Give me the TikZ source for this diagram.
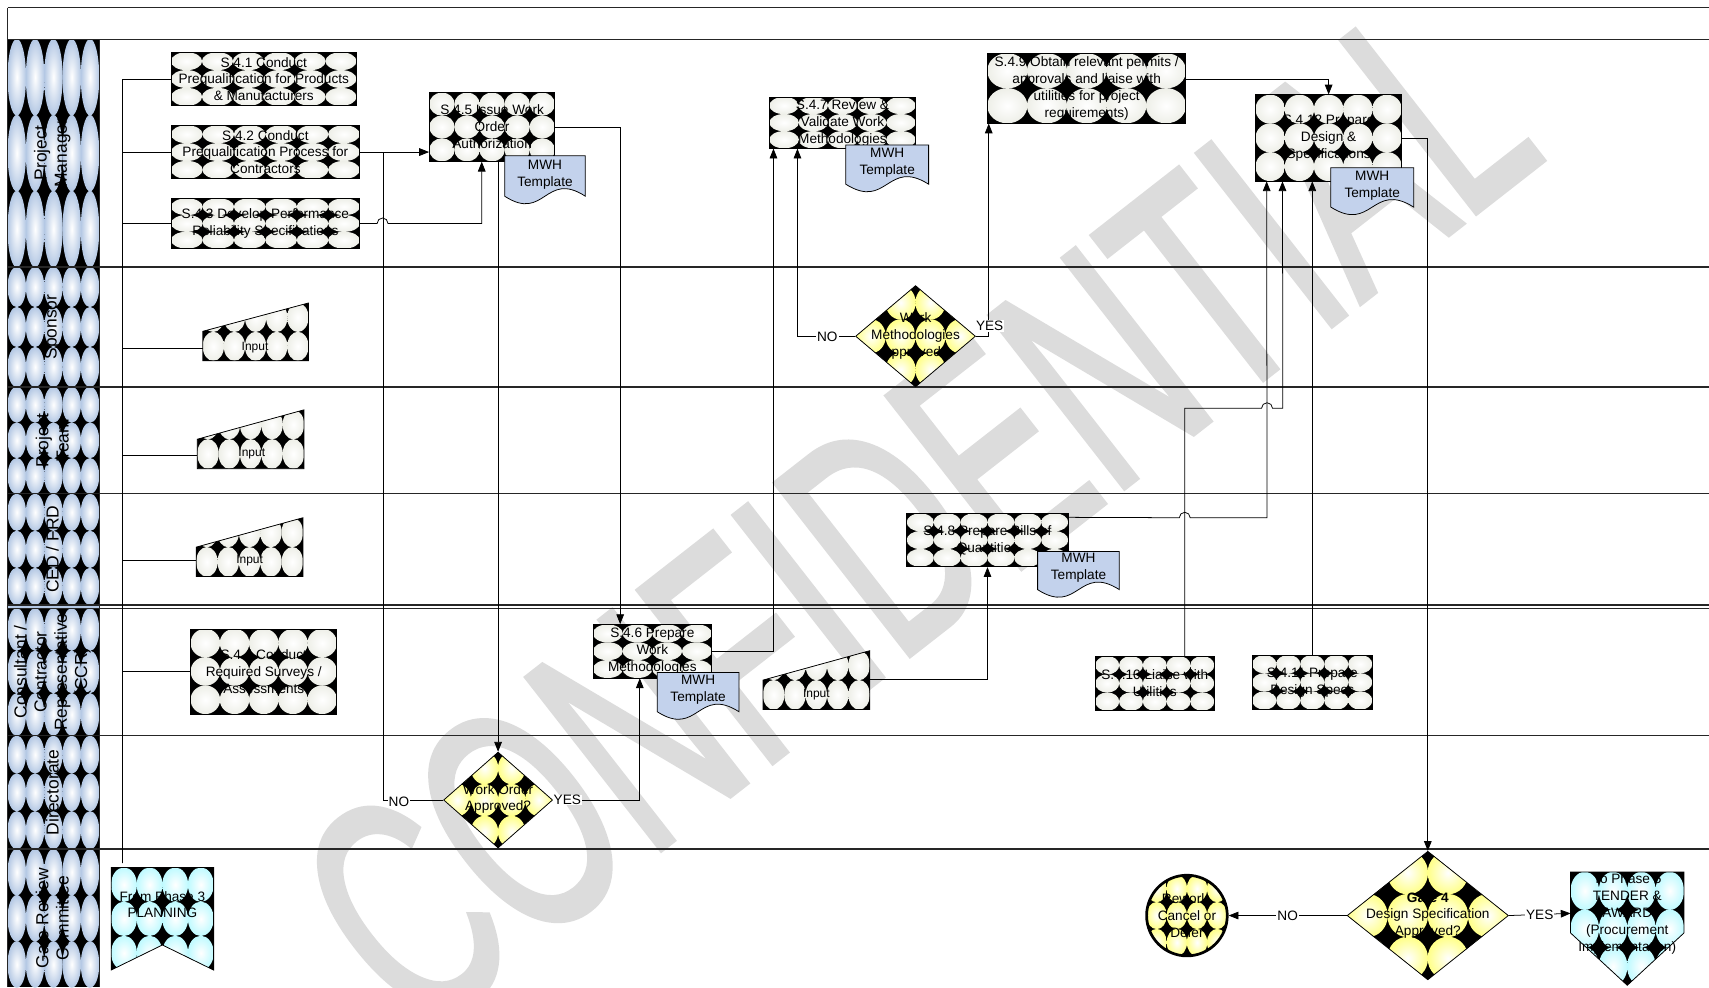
\documentclass[tikz,border=0pt]{standalone}
\usepackage{fontspec}
\setmainfont{Liberation Sans}
\newfontface\wmface[FakeBold=2]{Liberation Sans}
\usepackage{graphicx}
\usetikzlibrary{calc,arrows.meta,shapes.geometric}
\definecolor{hdrc}{HTML}{B4C8E4}
\definecolor{boxc}{HTML}{EEEFE8}
\definecolor{yelc}{HTML}{FFFF88}
\definecolor{cync}{HTML}{BFFAFF}
\definecolor{docc}{HTML}{C3D2EC}
\definecolor{wmc}{HTML}{DCDCDC}
\newcommand\boxfont{\fontsize{12.5}{15.5}\selectfont}
\newcommand\hdrfont{\fontsize{16}{18.5}\selectfont}
\newcommand\infont{\fontsize{11}{13}\selectfont}
\newdimen\ssx \newdimen\ssy \newdimen\eex \newdimen\eey
\newcommand\dostars[3]{%
  \pgfextractx{\ssx}{\pgfpointanchor{path picture bounding box}{south west}}%
  \pgfextracty{\ssy}{\pgfpointanchor{path picture bounding box}{south west}}%
  \pgfextractx{\eex}{\pgfpointanchor{path picture bounding box}{north east}}%
  \pgfextracty{\eey}{\pgfpointanchor{path picture bounding box}{north east}}%
  \fill[black] (\the\ssx,\the\ssy) rectangle (\the\eex,\the\eey);
  \pgfmathsetmacro\sox{\ssx}\pgfmathsetmacro\soy{\ssy}%
  \pgfmathsetmacro\scw{(\eex-\ssx)/#2}\pgfmathsetmacro\sch{(\eey-\ssy)/#3}%
  \foreach \si in {1,...,#2}{\foreach \sj in {1,...,#3}{%
    \pgfmathsetmacro\scx{\sox+(\si-0.5)*\scw}%
    \pgfmathsetmacro\scy{\soy+(\sj-0.5)*\sch}%
    \shade[inner color=white, outer color=#1] (\scx pt,\scy pt) ellipse[x radius=0.505*\scw pt, y radius=0.505*\sch pt];
  }}%
}
\newcommand\docpath[4]{%
  \path[docsh] (#1,#2) -- (#3,#2) -- (#3,#4) .. controls ({0.5*(#1+#3)},{#4-24}) and ({0.5*(#1+#3)},{#4+24}) .. (#1,#4) -- cycle;}
\tikzset{
  lane/.style={line width=1.1pt, draw=black!85},
  proc/.style={draw=black, line width=0.7pt, inner sep=0pt, align=center, font=\boxfont},
  dec/.style={draw=black, line width=0.7pt, diamond, inner sep=0pt},
  txt/.style={inner sep=0pt, align=center, font=\boxfont},
  intxt/.style={inner sep=0pt, align=center, font=\infont},
  conn/.style={draw=black, line width=0.7pt},
  arr/.style={conn, -{Triangle[length=9pt,width=7pt]}},
  lbl/.style={fill=white, inner sep=1pt, font=\boxfont},
  hdrtxt/.style={rotate=90, align=center, font=\hdrfont, inner sep=0pt},
  docsh/.style={draw=black, line width=0.7pt, fill=docc},
  shp/.style={draw=black, line width=0.7pt},
  wmark/.style={rotate=38, text=wmc, inner sep=0pt},
  starry/.style n args={3}{path picture={\dostars{#1}{#2}{#3}}},
}
\begin{document}
\begin{tikzpicture}[x=1pt,y=-1pt]
\useasboundingbox (0,0) rectangle (1568,906);
\fill[white] (0,0) rectangle (1568,906);
% watermark
\node[wmark] (wm) at (840,470) {\scalebox{0.62}[1]{\fontsize{290}{290}\wmface CONFIDENTIAL}};
% lane headers
\path[starry={hdrc}{5}{3}] (7,36) rectangle (91,245);
\path[starry={hdrc}{5}{3}] (7,245) rectangle (91,355);
\path[starry={hdrc}{5}{3}] (7,355) rectangle (91,453);
\path[starry={hdrc}{5}{3}] (7,453) rectangle (91,555);
\fill[hdrc] (7,555) rectangle (91,558);
\path[starry={hdrc}{5}{3}] (7,558) rectangle (91,675);
\path[starry={hdrc}{5}{3}] (7,675) rectangle (91,779);
\path[starry={hdrc}{5}{3}] (7,779) rectangle (91,906);
\draw[lane] (7,7) -- (1568,7);
\draw[lane] (7,36) -- (1568,36);
\draw[lane] (7,7) -- (7,906);
\draw[lane] (91,36) -- (91,906);
\foreach \ly in {245,355,453,555,558,675,779}{\draw[lane] (7,\ly) -- (1568,\ly);}
\node[hdrtxt] (hpm) at (48,140.5) {Project\\Manager};
\node[hdrtxt] (hsp) at (48,300) {Sponsor};
\node[hdrtxt] (hpt) at (48,404) {Project\\Team};
\node[hdrtxt] (hced) at (48,504) {CED / FRD};
\node[hdrtxt] (hccr) at (48,616.5) {Consultant /\\Contractor\\Representative\\(CCR)};
\node[hdrtxt] (hdir) at (48,727) {Directorate};
\node[hdrtxt] (hgrc) at (48,842.5) {Gate Review\\Committee};
% process boxes
\node[proc, minimum width=170, minimum height=49, starry={boxc}{6}{3}] (s41) at (242,72.5) {S.4.1 Conduct\\Prequalification for Products\\\& Manufacturers};
\node[proc, minimum width=173, minimum height=49, starry={boxc}{6}{3}] (s42) at (243.5,139.5) {S.4.2 Conduct\\Prequalification Process for\\Contractors};
\node[proc, minimum width=173, minimum height=46, starry={boxc}{6}{3}] (s43) at (243.5,205) {S.4.3 Develop Performance\\Reliability Specifications};
\node[proc, minimum width=115, minimum height=63, starry={boxc}{5}{3}] (s45) at (451.5,116.5) {S.4.5 Issue Work\\Order\\Authorization};
\node[proc, minimum width=134, minimum height=47, starry={boxc}{5}{3}] (s47) at (773,112.5) {S.4.7 Review \&\\Validate Work\\Methodologies};
\node[proc, minimum width=182, minimum height=64, starry={boxc}{5}{2}] (s49) at (997,81) {S.4.9 Obtain relevant permits /\\approvals and liaise with\\utilities for project\\requirements)};
\node[proc, minimum width=134, minimum height=79, starry={boxc}{5}{3}] (s412) at (1219,126.5) {S.4.12 Prepare\\Design \&\\Specifications};
\node[proc, minimum width=148, minimum height=49, starry={boxc}{6}{3}] (s48) at (906,495.5) {S.4.8 Prepare Bills of\\Quantities};
\node[proc, minimum width=134, minimum height=78, starry={boxc}{5}{3}] (s44) at (242,616) {S.4.4 Conduct\\Required Surveys /\\Assessments};
\node[proc, minimum width=109, minimum height=49, starry={boxc}{4}{3}] (s46) at (598.5,597.5) {S.4.6 Prepare\\Work\\Methodologies};
\node[proc, minimum width=109, minimum height=50, starry={boxc}{5}{3}] (s410) at (1059.5,627) {S.4.10 Liaise with\\Utilities};
\node[proc, minimum width=110, minimum height=50, starry={boxc}{5}{3}] (s411) at (1204,626) {S.4.11 Prepare\\Design Specs};
% documents
\docpath{463}{143}{537}{180}
\node[txt] (d45) at (500,160) {MWH\\Template};
\docpath{776}{133}{852}{169}
\node[txt] (d47) at (814,149.5) {MWH\\Template};
\docpath{1221}{154}{1297}{190}
\node[txt] (d412) at (1259,170) {MWH\\Template};
\docpath{952}{506}{1027}{541}
\node[txt] (d48) at (989.5,521) {MWH\\Template};
\docpath{603}{617}{678}{653}
\node[txt] (d46) at (640.5,633) {MWH\\Template};
% manual inputs
\path[shp, starry={boxc}{5}{2}] (186,304) -- (283,278) -- (283,331) -- (186,331) -- cycle;
\node[intxt] (in1) at (234,319) {Input};
\coordinate (in1w) at (186,320);
\path[shp, starry={boxc}{5}{2}] (181,403) -- (279,376) -- (279,430) -- (181,430) -- cycle;
\node[intxt] (in2) at (231,416) {Input};
\coordinate (in2w) at (181,418);
\path[shp, starry={boxc}{5}{2}] (180,502) -- (278,475) -- (278,529) -- (180,529) -- cycle;
\node[intxt] (in3) at (229,514) {Input};
\coordinate (in3w) at (180,514);
\path[shp, starry={boxc}{5}{2}] (700,624) -- (798,597) -- (798,651) -- (700,651) -- cycle;
\node[intxt] (in4) at (749,637) {Input};
\coordinate (in4e) at (798,623);
% decisions
\node[dec, minimum width=110, minimum height=93, starry={yelc}{4}{3}] (dm) at (840,308.5) {};
\node[txt] (dmt) at (840,308) {Work\\Methodologies\\Approved?};
\node[dec, minimum width=100, minimum height=88, starry={yelc}{4}{3}] (dwo) at (457,734) {};
\node[txt] (dwot) at (457,733) {Work Order\\Approved?};
\node[dec, minimum width=148, minimum height=118, starry={yelc}{4}{3}] (gate4) at (1310,840) {};
\node[txt] (g4t) at (1310,840) {\textbf{Gate 4}\\Design Specification\\Approved?};
\node[circle, draw=black, line width=2.5pt, minimum size=74, inner sep=0pt, starry={yelc}{4}{3}] (rew) at (1089,840) {};
\node[txt] (rewt) at (1089,840) {Rework,\\Cancel or\\Defer};
% off-page connectors
\path[shp, starry={cync}{4}{3}] (102,796) -- (196,796) -- (196,890) -- (149,867) -- (102,890) -- cycle;
\node[txt] (from3) at (149,830) {From Phase 3\\PLANNING};
\coordinate (trb) at (112,792);
\path[shp, starry={cync}{4}{3}] (1441,800) -- (1545,800) -- (1545,856) -- (1493,904) -- (1441,856) -- cycle;
\node[txt] (to5) at (1493,838.5) {To Phase 5\\TENDER \&\\AWARD\\(Procurement\\Implementation)};
\coordinate (to5w) at (1441,838);
% connectors: trunk
\draw[conn] (trb) |- (s41.west);
\draw[conn] (trb) |- (s42.west);
\draw[conn] (trb) |- (s43.west);
\draw[conn] (trb) |- (in1w);
\draw[conn] (trb) |- (in2w);
\draw[conn] (trb) |- (in3w);
\draw[conn] (trb) |- (s44.west);
% flows
\draw[arr] (s42.east) -- (s45.west |- s42.east);
\draw[conn] (dwo.west) -| ($(s42.east)+(21,0)$);
\node[lbl] (lno1) at (366,736) {NO};
\draw[arr] (s43.east) -- (346,205) arc[start angle=180,end angle=360,radius=5] -- (442,205) -- ($(s45.south)+(-9.5,0)$);
\draw[arr] (s45.east) -| ($(s46.north)+(-29.5,0)$);
\draw[arr] (s45.south -| dwo.north) -- (dwo.north);
\draw[arr] (dwo.east) -| ($(s46.south)+(-11.5,0)$);
\node[lbl, anchor=west, inner sep=0.5pt] (lyes1) at (dwo.east) {YES};
\draw[arr] (s46.east) -| ($(s47.south west)+(4,0)$);
\draw[arr] (dm.west) -| ($(s47.south west)+(26,0)$);
\node[lbl] (lno2) at (759,309) {NO};
\draw[arr] (dm.east) -| ($(s49.south west)+(1.5,0)$);
\node[lbl] (lyes2) at (908,299) {YES};
\draw[arr] ($(s49.east)+(0,-8)$) -| (s412.north);
\draw[arr] (s412.east) -| (gate4.north);
\draw[arr] ($(s48.north east)+(0,4)$) -- (1082,475) arc[start angle=180,end angle=360,radius=5] -- (1162.5,475) -- ($(s412.south west)+(10.5,0)$);
\draw[arr] ($(s410.north)+(27.5,0)$) -- (1087,374.5) -- (1157.5,374.5) arc[start angle=180,end angle=360,radius=5] -- (1177,374.5) -- ($(s412.south west)+(25,0)$);
\draw[arr] (s411.north) -- (s411.north |- s412.south);
\draw[arr] (in4e) -| (s48.south);
\draw[arr] (gate4.west) -- (rew.east) node[lbl, midway] (lno3) {NO};
\draw[arr] (gate4.east) -- (to5w) node[lbl, midway] (lyes3) {YES};
\end{tikzpicture}
\end{document}
